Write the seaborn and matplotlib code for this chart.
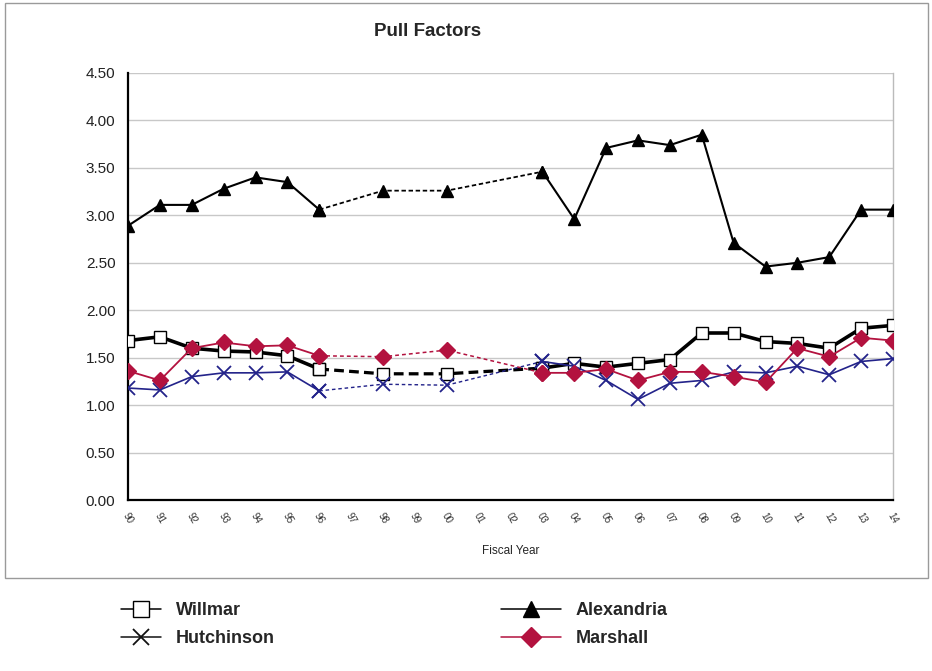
import numpy as np
import pandas as pd
import matplotlib
matplotlib.use("Agg")
import matplotlib.pyplot as plt
import seaborn as sns
from matplotlib.lines import Line2D
from matplotlib.patches import Rectangle

# Fiscal-year categories on the axis (1990 through 2014)
years = ["90", "91", "92", "93", "94", "95", "96", "97", "98", "99",
         "00", "01", "02", "03", "04", "05", "06", "07", "08", "09",
         "10", "11", "12", "13", "14"]

# Years with reported pull factors
reported = ["90", "91", "92", "93", "94", "95", "96", "98", "00", "03",
            "04", "05", "06", "07", "08", "09", "10", "11", "12", "13", "14"]

willmar = [1.68, 1.72, 1.60, 1.57, 1.56, 1.52, 1.38, 1.33, 1.33, 1.39,
           1.44, 1.40, 1.44, 1.48, 1.76, 1.76, 1.67, 1.65, 1.60, 1.81, 1.84]
hutchinson = [1.18, 1.16, 1.30, 1.34, 1.34, 1.35, 1.15, 1.22, 1.21, 1.46,
              1.41, 1.26, 1.06, 1.23, 1.26, 1.35, 1.34, 1.41, 1.32, 1.46, 1.49]
alexandria = [2.89, 3.11, 3.11, 3.28, 3.40, 3.35, 3.06, 3.26, 3.26, 3.46,
              2.96, 3.71, 3.79, 3.74, 3.85, 2.71, 2.46, 2.50, 2.56, 3.06, 3.06]
marshall = [1.36, 1.26, 1.60, 1.66, 1.62, 1.63, 1.52, 1.51, 1.58, 1.34,
            1.34, 1.38, 1.26, 1.35, 1.35, 1.30, 1.24, 1.60, 1.51, 1.71, 1.68]

cities = ["Willmar", "Hutchinson", "Alexandria", "Marshall"]
values = {"Willmar": willmar, "Hutchinson": hutchinson,
          "Alexandria": alexandria, "Marshall": marshall}

# Segments: reported runs are solid, the bridge across missing years is dashed
early = ["90", "91", "92", "93", "94", "95", "96"]
bridge = ["96", "98", "00", "03"]
late = ["03", "04", "05", "06", "07", "08", "09", "10", "11", "12", "13", "14"]

rows = []
for c in cities:
    for y, v in zip(reported, values[c]):
        rows.append({"city": c, "year": y, "pos": years.index(y), "value": v})
df = pd.DataFrame(rows)

styles = {
    "Willmar": dict(color="black", lw=2.6, marker="s", ms=8.5, mfc="white",
                    mec="black", mew=1.0, dash=(0, (3.0, 1.6))),
    "Hutchinson": dict(color="#23238a", lw=1.2, marker="x", ms=9.5, mfc="#23238a",
                       mec="#23238a", mew=1.3, dash=(0, (2.5, 2.0))),
    "Alexandria": dict(color="black", lw=1.5, marker="^", ms=8.5, mfc="black",
                       mec="black", mew=1.0, dash=(0, (2.5, 1.5))),
    "Marshall": dict(color="#b3123f", lw=1.3, marker="D", ms=8.0, mfc="#b3123f",
                     mec="#b3123f", mew=1.0, dash=(0, (2.5, 2.0))),
}

plt.rcParams["font.family"] = ["Liberation Sans", "DejaVu Sans"]
sns.set_style("white")
plt.rcParams["font.family"] = ["Liberation Sans", "DejaVu Sans"]

fig = plt.figure(figsize=(9.32, 6.71), dpi=100)
ax = fig.add_axes([128 / 932, 1 - 500 / 671, (893 - 128) / 932, (500 - 73) / 671])

for z, c in enumerate(cities):
    st = styles[c]
    sub = df[df.city == c]
    for seg, ls in ((early, "-"), (bridge, st["dash"]), (late, "-")):
        part = sub[sub.year.isin(seg)]
        lw = st["lw"] if ls == "-" else st["lw"] * (0.9 if c == "Willmar" else 0.85)
        sns.lineplot(data=part, x="pos", y="value", ax=ax, sort=True,
                     estimator=None, color=st["color"], linewidth=lw,
                     linestyle=ls, marker=st["marker"], markersize=st["ms"],
                     markerfacecolor=st["mfc"], markeredgecolor=st["mec"],
                     markeredgewidth=st["mew"], zorder=3 + z, legend=False)

ax.set_xlim(0, len(years) - 1)
ax.set_ylim(0, 4.5)
ax.set_yticks(np.arange(0, 4.51, 0.5))
ax.set_yticklabels([f"{t:.2f}" for t in np.arange(0, 4.51, 0.5)], fontsize=11,
                   color="#222222")
ax.set_xticks(range(len(years)))
ax.set_xticklabels(years, fontsize=7, rotation=-60, ha="center",
                   color="#333333")
ax.tick_params(axis="x", direction="inout", length=4, width=0.8, pad=6,
               color="#555555")
ax.tick_params(axis="y", direction="out", length=4, width=0.8, color="#555555",
               pad=5)
ax.yaxis.grid(True, color="#c8c8c8", lw=1.0)
ax.xaxis.grid(False)
ax.set_axisbelow(True)
ax.set_xlabel("Fiscal Year", fontsize=8.5, labelpad=14)
ax.set_ylabel("")
for s in ("left", "bottom"):
    ax.spines[s].set_color("black")
    ax.spines[s].set_linewidth(1.6)
for s in ("top", "right"):
    ax.spines[s].set_color("#bbbbbb")
    ax.spines[s].set_linewidth(1.0)
ax.spines["top"].set_visible(False)

fig.text(428 / 932, 1 - 32 / 671, "Pull Factors", fontsize=13.5,
         fontweight="bold", ha="center", va="center")

# Chart frame
fig.patches.append(Rectangle((5 / 932, 1 - 578 / 671), 923 / 932, 575 / 671,
                             transform=fig.transFigure, fill=False,
                             edgecolor="#9a9a9a", lw=1.0))


def key_handle(c, marker_color=None):
    st = styles[c]
    mc = marker_color or st["mec"]
    return Line2D([], [], color=marker_color or st["color"], lw=1.1,
                  marker=st["marker"], markersize=st["ms"] + 2.5,
                  markerfacecolor=st["mfc"] if st["mfc"] == "white" else mc,
                  markeredgecolor=mc, markeredgewidth=st["mew"])


legend_kw = dict(loc="upper left", frameon=False, borderpad=0,
                 prop={"weight": "bold", "size": 13}, labelspacing=0.62,
                 handletextpad=0.85)
left_key = fig.legend([key_handle("Willmar"), key_handle("Hutchinson", "#111111")],
                      ["Willmar", "Hutchinson"],
                      bbox_to_anchor=(112 / 932, 1 - 593 / 671),
                      handlelength=2.2, **legend_kw)
right_key = fig.legend([key_handle("Alexandria"), key_handle("Marshall")],
                       ["Alexandria", "Marshall"],
                       bbox_to_anchor=(492 / 932, 1 - 593 / 671),
                       handlelength=3.3, **legend_kw)

fig.savefig("out.png", dpi=100)
